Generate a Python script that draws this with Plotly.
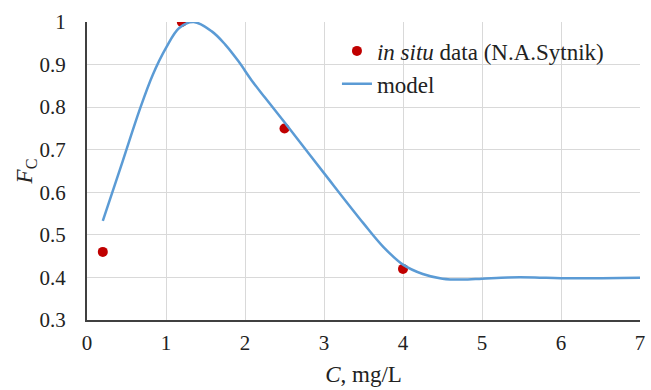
import plotly.graph_objects as go

# in situ data
data_x = [0.2, 1.2, 2.5, 4.0]
data_y = [0.46, 1.0, 0.75, 0.42]

# model curve
model_x = [0.2, 0.45, 0.667, 0.833, 1.0, 1.167, 1.35, 1.58, 1.75, 1.92, 2.08, 2.25, 2.51,
           3.0, 3.5, 3.75, 4.0, 4.25, 4.5, 4.75, 5.0, 5.33, 5.67, 6.0, 7.0]
model_y = [0.533, 0.672, 0.794, 0.876, 0.939, 0.986, 1.0, 0.978, 0.947, 0.907, 0.864, 0.823, 0.762,
           0.645, 0.527, 0.472, 0.43, 0.408, 0.397, 0.395, 0.397, 0.400, 0.400, 0.398, 0.399]

x_ticks = [0, 1, 2, 3, 4, 5, 6, 7]
y_ticks = [0.3, 0.4, 0.5, 0.6, 0.7, 0.8, 0.9, 1.0]
y_labels = ["0.3", "0.4", "0.5", "0.6", "0.7", "0.8", "0.9", "1"]

FONT = "Times New Roman, Liberation Serif, serif"

fig = go.Figure()
fig.add_trace(go.Scatter(
    x=data_x, y=data_y, mode="markers",
    name="<i>in situ</i> data (N.A.Sytnik)",
    marker=dict(color="#c00000", size=10),
))
fig.add_trace(go.Scatter(
    x=model_x, y=model_y, mode="lines", name="model",
    line=dict(color="#5b9bd5", width=2.5, shape="spline", smoothing=1.0),
))

fig.update_layout(
    width=651, height=390,
    margin=dict(l=87, r=6, t=22, b=70),
    paper_bgcolor="white", plot_bgcolor="white",
    font=dict(family=FONT, size=20, color="#222222"),
    legend=dict(x=0.452, y=0.975, xanchor="left", yanchor="top",
                bgcolor="rgba(0,0,0,0)", font=dict(family=FONT, size=23), tracegroupgap=0),
    showlegend=True,
)
fig.update_xaxes(
    range=[0, 7], tickvals=x_ticks, ticktext=[str(v) for v in x_ticks],
    tickfont=dict(family=FONT, size=21),
    showgrid=True, gridcolor="#d9d9d9", gridwidth=1,
    showline=True, linecolor="#404040", linewidth=2,
    zeroline=False, ticks="", ticklabelstandoff=3,
    title=dict(text="<i>C</i>, mg/L", font=dict(family=FONT, size=23), standoff=12),
)
fig.update_yaxes(
    range=[0.3, 1.0], tickvals=y_ticks, ticktext=y_labels,
    tickfont=dict(family=FONT, size=21),
    showgrid=True, gridcolor="#d9d9d9", gridwidth=1,
    showline=True, linecolor="#404040", linewidth=2,
    zeroline=False, ticks="", ticklabelstandoff=15,
    title=dict(text="<i>F</i><sub>C</sub>", font=dict(family=FONT, size=23), standoff=0),
)

fig.write_html("out.html")
